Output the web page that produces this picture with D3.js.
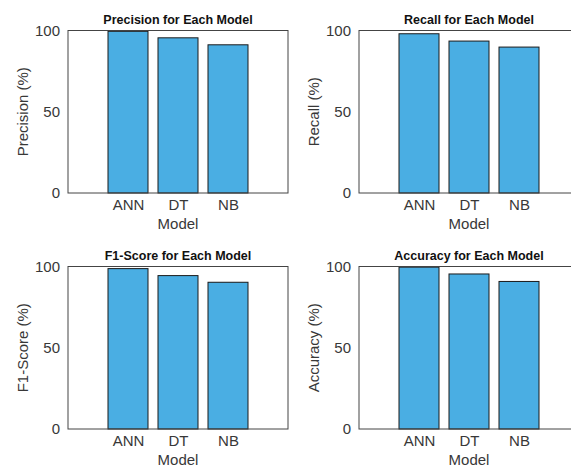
<!DOCTYPE html>
<html>
<head>
<meta charset="utf-8">
<script src="https://cdn.jsdelivr.net/npm/d3@7"></script>
<style>
  body { margin: 0; background: #fff; }
  svg { display: block; font-family: "Liberation Sans", Arial, sans-serif; }
</style>
</head>
<body>
<div id="chart"></div>
<script>
const models = ["ANN", "DT", "NB"];
const precision = [99.5, 95.5, 91.2];
const recall = [98.0, 93.5, 89.8];
const f1Score = [98.7, 94.4, 90.3];
const accuracy = [99.6, 95.4, 90.8];
const yTicks = [0, 50, 100];

const panels = [
  { title: "Precision for Each Model", ylabel: "Precision (%)", values: precision, left: 68, top: 30.5 },
  { title: "Recall for Each Model", ylabel: "Recall (%)", values: recall, left: 359, top: 30.5 },
  { title: "F1-Score for Each Model", ylabel: "F1-Score (%)", values: f1Score, left: 68, top: 266.5 },
  { title: "Accuracy for Each Model", ylabel: "Accuracy (%)", values: accuracy, left: 359, top: 266.5 }
];

const width = 571, height = 475;
const boxW = 220, boxH = 162.5;
const textColor = "#383838";

const svg = d3.select("#chart").append("svg")
  .attr("width", width)
  .attr("height", height);

panels.forEach((p) => {
  const g = svg.append("g")
    .attr("transform", "translate(" + p.left + "," + p.top + ")");

  const x = d3.scalePoint()
    .domain(models)
    .range([60, boxW - 60]);
  const barW = x.step() * 0.8;

  const y = d3.scaleLinear()
    .domain([0, 100])
    .range([boxH, 0]);

  g.selectAll(".bar")
    .data(models)
    .enter()
    .append("rect")
    .attr("x", (d) => x(d) - barW / 2)
    .attr("y", (d, i) => y(p.values[i]))
    .attr("width", barW)
    .attr("height", (d, i) => y(0) - y(p.values[i]))
    .attr("fill", "#4aaee3")
    .attr("stroke", "#1a1a1a")
    .attr("stroke-width", 1);

  // axes box
  g.append("rect")
    .attr("width", boxW)
    .attr("height", boxH)
    .attr("fill", "none")
    .attr("stroke", "#444")
    .attr("stroke-width", 1);

  const yAxis = g.append("g")
    .call(d3.axisLeft(y).tickValues(yTicks).tickSize(0).tickPadding(8));
  yAxis.select(".domain").remove();
  yAxis.selectAll("text")
    .attr("fill", textColor)
    .style("font-size", "15px")
    .style("font-family", "Liberation Sans, Arial, sans-serif");

  const xAxis = g.append("g")
    .attr("transform", "translate(0," + boxH + ")")
    .call(d3.axisBottom(x).tickSize(0).tickPadding(6));
  xAxis.select(".domain").remove();
  xAxis.selectAll("text")
    .attr("fill", textColor)
    .style("font-size", "15px")
    .style("font-family", "Liberation Sans, Arial, sans-serif");

  g.append("text")
    .attr("x", boxW / 2)
    .attr("y", boxH + 36)
    .attr("text-anchor", "middle")
    .attr("fill", textColor)
    .style("font-size", "15px")
    .text("Model");

  g.append("text")
    .attr("transform", "rotate(-90)")
    .attr("x", -boxH / 2)
    .attr("y", -40)
    .attr("text-anchor", "middle")
    .attr("fill", textColor)
    .style("font-size", "15px")
    .text(p.ylabel);

  g.append("text")
    .attr("x", boxW / 2)
    .attr("y", -7)
    .attr("text-anchor", "middle")
    .attr("fill", "#111")
    .style("font-size", "12.5px")
    .style("font-weight", "bold")
    .text(p.title);
});
</script>
</body>
</html>
